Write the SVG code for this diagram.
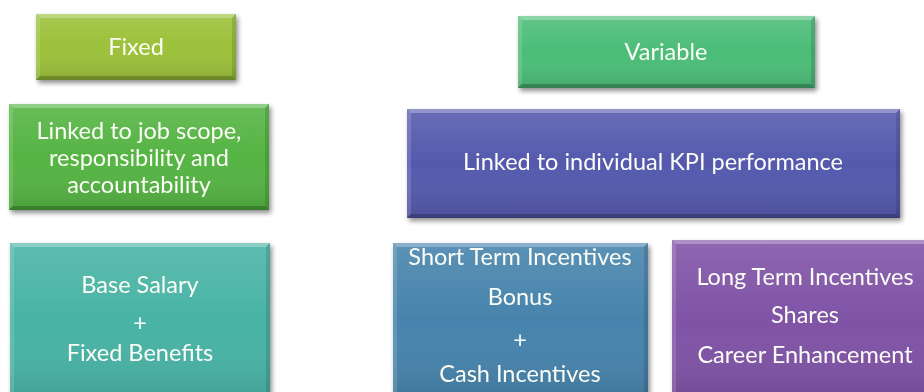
<svg xmlns="http://www.w3.org/2000/svg" width="924" height="392" viewBox="0 0 924 392">
<style>
text{font-family:Lato,"Open Sans","Liberation Sans",sans-serif;font-size:23.5px;fill:#fbfdf6;text-anchor:middle}
.hl{fill:#ffffff;opacity:.28}
.hs{fill:#ffffff;opacity:.14}
.dk{fill:#000000;opacity:.22}
.ds{fill:#000000;opacity:.12}
</style>
<defs>
<filter id="sh" x="-10%" y="-10%" width="125%" height="135%">
<feGaussianBlur in="SourceAlpha" stdDeviation="2.5"/>
<feOffset dx="2" dy="3" result="b"/>
<feComponentTransfer><feFuncA type="linear" slope="0.45"/></feComponentTransfer>
<feMerge><feMergeNode/><feMergeNode in="SourceGraphic"/></feMerge>
</filter>
<linearGradient id="sheen" x1="0" y1="0" x2="0" y2="1">
<stop offset="0" stop-color="#fff" stop-opacity=".12"/>
<stop offset=".5" stop-color="#fff" stop-opacity="0"/>
<stop offset="1" stop-color="#000" stop-opacity=".12"/>
</linearGradient>
</defs>

<g id="fixed" filter="url(#sh)">
<rect x="36" y="14" width="200" height="66" fill="#9cc13a"/>
<rect x="36" y="14" width="200" height="66" fill="url(#sheen)"/>
<polygon class="hl" points="36,14 236,14 232,18 40,18"/>
<polygon class="hs" points="36,14 40,18 40,76 36,80"/>
<polygon class="dk" points="36,80 236,80 232,76 40,76"/>
<polygon class="ds" points="236,14 236,80 232,76 232,18"/>
<text x="136" y="55">Fixed</text>
</g>

<g id="fixed-desc" filter="url(#sh)">
<rect x="9" y="104" width="260" height="106" fill="#55b443"/>
<rect x="9" y="104" width="260" height="106" fill="url(#sheen)"/>
<polygon class="hl" points="9,104 269,104 265,108 13,108"/>
<polygon class="hs" points="9,104 13,108 13,206 9,210"/>
<polygon class="dk" points="9,210 269,210 265,206 13,206"/>
<polygon class="ds" points="269,104 269,210 265,206 265,108"/>
<text x="139" y="139">Linked to job scope,</text>
<text x="139" y="166">responsibility and</text>
<text x="139" y="193">accountability</text>
</g>

<g id="base-salary" filter="url(#sh)">
<rect x="10" y="243" width="260" height="160" fill="#48b3a5"/>
<rect x="10" y="243" width="260" height="160" fill="url(#sheen)"/>
<polygon class="hl" points="10,243 270,243 266,247 14,247"/>
<polygon class="hs" points="10,243 14,247 14,403 10,403"/>
<polygon class="ds" points="270,243 270,403 266,403 266,247"/>
<text x="140" y="293">Base Salary</text>
<text x="140" y="331">+</text>
<text x="140" y="361">Fixed Benefits</text>
</g>

<g id="variable" filter="url(#sh)">
<rect x="518" y="16" width="297" height="72" fill="#4cbd78"/>
<rect x="518" y="16" width="297" height="72" fill="url(#sheen)"/>
<polygon class="hl" points="518,16 815,16 811,20 522,20"/>
<polygon class="hs" points="518,16 522,20 522,84 518,88"/>
<polygon class="dk" points="518,88 815,88 811,84 522,84"/>
<polygon class="ds" points="815,16 815,88 811,84 811,20"/>
<text x="666" y="60">Variable</text>
</g>

<g id="variable-desc" filter="url(#sh)">
<rect x="407" y="109" width="493" height="109" fill="#5559ad"/>
<rect x="407" y="109" width="493" height="109" fill="url(#sheen)"/>
<polygon class="hl" points="407,109 900,109 896,113 411,113"/>
<polygon class="hs" points="407,109 411,113 411,214 407,218"/>
<polygon class="dk" points="407,218 900,218 896,214 411,214"/>
<polygon class="ds" points="900,109 900,218 896,214 896,113"/>
<text x="653" y="170">Linked to individual KPI performance</text>
</g>

<g id="short-term" filter="url(#sh)">
<rect x="393" y="243" width="255" height="160" fill="#4683ac"/>
<rect x="393" y="243" width="255" height="160" fill="url(#sheen)"/>
<polygon class="hl" points="393,243 648,243 644,247 397,247"/>
<polygon class="hs" points="393,243 397,247 397,403 393,403"/>
<polygon class="ds" points="648,243 648,403 644,403 644,247"/>
<text x="520" y="265">Short Term Incentives</text>
<text x="520" y="305">Bonus</text>
<text x="520" y="348">+</text>
<text x="520" y="382">Cash Incentives</text>
</g>

<g id="long-term" filter="url(#sh)">
<rect x="672" y="240" width="266" height="163" fill="#7f52a6"/>
<rect x="672" y="240" width="266" height="163" fill="url(#sheen)"/>
<polygon class="hl" points="672,240 938,240 934,244 676,244"/>
<polygon class="hs" points="672,240 676,244 676,403 672,403"/>
<text x="805" y="285">Long Term Incentives</text>
<text x="805" y="323">Shares</text>
<text x="805" y="363">Career Enhancement</text>
</g>

<g id="connectors"></g>
</svg>
